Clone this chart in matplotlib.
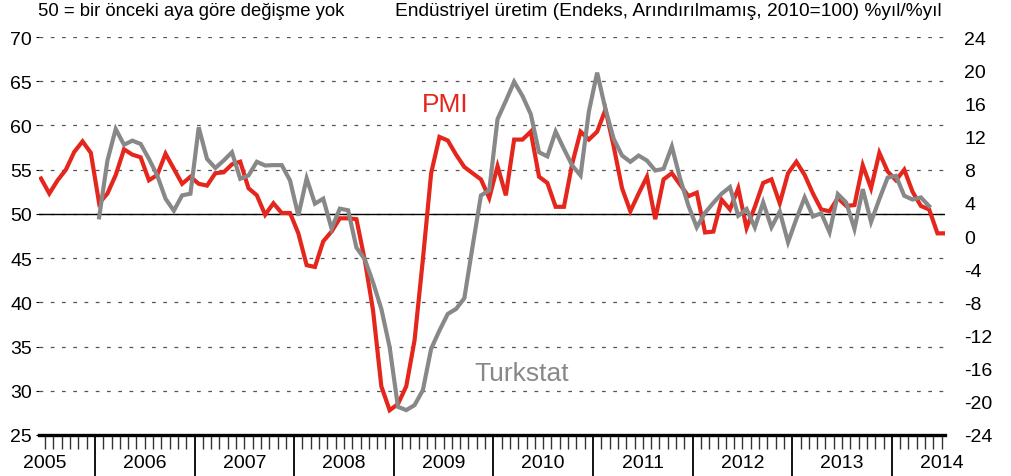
import numpy as np
import matplotlib
matplotlib.use("Agg")
from matplotlib import pyplot as plt
from matplotlib import transforms

# monthly data, Jun 2005 .. Jul 2014 (PMI) and Jan 2006 .. May 2014 (Turkstat)
pmi_start = 2005 + 5.5 / 12
pmi = [54.0, 52.3, 53.8, 55.0, 57.0, 58.2, 56.9,
       51.2, 52.3, 54.4, 57.3, 56.7, 56.4, 53.8, 54.4, 56.8, 55.1, 53.4, 54.2,
       53.4, 53.2, 54.6, 54.7, 55.6, 55.9, 52.9, 52.1, 49.9, 51.2, 50.1, 50.1,
       47.8, 44.2, 44.0, 46.9, 48.0, 49.5, 49.5, 49.4, 44.8, 39.1, 30.5, 27.8,
       28.5, 30.5, 35.7, 44.8, 54.6, 58.7, 58.3, 56.7, 55.3, 54.6, 53.9, 51.8,
       55.4, 52.1, 58.4, 58.4, 59.3, 54.2, 53.5, 50.8, 50.8, 55.7, 59.3, 58.4,
       59.3, 61.8, 57.6, 52.9, 50.3, 52.3, 54.2, 49.4, 53.9, 54.6, 53.3, 52.0,
       52.4, 47.9, 48.0, 51.6, 50.5, 52.9, 48.4, 50.8, 53.5, 53.9, 51.2, 54.6,
       55.9, 54.4, 52.3, 50.5, 50.3, 51.8, 50.9, 51.0, 55.5, 52.9, 56.9, 54.8,
       53.8, 55.0, 52.5, 50.9, 50.5, 47.8, 47.8]

ind_start = 2006 + 0.5 / 12
turkstat = [2.25, 9.1, 12.9, 11.0, 11.5, 11.1, 9.3, 7.3, 4.5, 3.05, 4.9, 5.1,
            13.1, 9.3, 8.2, 9.1, 10.1, 6.9, 7.3, 8.95, 8.5, 8.55, 8.55, 6.7,
            2.45, 6.95, 3.9, 4.5, 0.9, 3.3, 3.1, -1.4, -2.8, -5.6, -8.8, -13.4,
            -20.6, -21.0, -20.4, -18.6, -13.6, -11.4, -9.4, -8.8, -7.5, -1.2, 4.9, 5.5,
            14.1, 16.3, 18.6, 16.9, 14.7, 10.1, 9.6, 12.6, 10.5, 8.5, 7.3, 15.0,
            19.7, 15.3, 11.7, 9.7, 8.95, 9.7, 9.1, 7.9, 8.1, 10.8, 6.9, 3.65,
            1.05, 2.8, 4.0, 5.1, 5.9, 2.45, 3.25, 1.05, 4.05, 1.05, 2.95, -0.75,
            2.05, 4.65, 2.35, 2.75, 0.45, 5.05, 4.05, 0.85, 5.65, 1.7, 4.45, 7.05,
            7.25, 4.85, 4.4, 4.65, 3.6]

years = list(range(2005, 2015))
left_ticks = list(range(25, 75, 5))
right_ticks = list(range(-24, 28, 4))

plt.rcParams['font.family'] = ['Liberation Sans', 'DejaVu Sans']

RED = '#e4261c'
GREY = '#888888'

x_pmi = pmi_start + np.arange(len(pmi)) / 12
x_ind = ind_start + np.arange(len(turkstat)) / 12

fig = plt.figure(figsize=(10.11, 4.77), dpi=100)
ax = fig.add_axes([39 / 1011, 41 / 477, 906 / 1011, 398 / 477])
ax2 = ax.twinx()

ax.plot(x_pmi, pmi, color=RED, lw=3, solid_joinstyle='miter', zorder=3)
ax2.plot(x_ind, turkstat, color=GREY, lw=3, solid_joinstyle='miter')

ax.set_xlim(2005.438, 2014.534)
ax.set_ylim(25, 70)
ax2.set_ylim(-24, 24)

ax.set_yticks(left_ticks)
ax.set_yticklabels([str(v) for v in left_ticks], fontsize=14)
ax2.set_yticks(right_ticks)
ax2.set_yticklabels([str(v) for v in right_ticks], fontsize=14)
ax.tick_params(axis='y', length=2, pad=3)
ax2.tick_params(axis='y', length=0, pad=14)

ax.yaxis.grid(True, linestyle=(0, (3, 6)), color='#555555', lw=0.9)
ax.axhline(50, color='black', lw=1, zorder=2)
ax.set_axisbelow(True)

# year boundaries long, months short
ax.set_xticks(years[1:])
ax.set_xticklabels([])
ax.set_xticks([2005 + m / 12 for m in range(6, 115)], minor=True)
ax.tick_params(axis='x', which='major', length=30, width=1.3, color='black')
ax.tick_params(axis='x', which='minor', length=10, width=1, color='#333333')
trans = transforms.blended_transform_factory(ax.transData, ax.transAxes)
for yr in years:
    ax.text(yr + 0.5, -0.068, str(yr), transform=trans, ha='center', va='center', fontsize=14)

for a in (ax, ax2):
    for s in ('top', 'left', 'right', 'bottom'):
        a.spines[s].set_visible(False)
ax.spines['bottom'].set_visible(True)
ax.spines['bottom'].set_linewidth(2.4)

ax.text(2009.52, 62.4, 'PMI', color=RED, fontsize=19, ha='center', va='center', zorder=4)
ax.text(2010.28, 32.0, 'Turkstat', color=GREY, fontsize=19, ha='center', va='center', zorder=4)

fig.text(38 / 1011, 1 - 12 / 477, '50 = bir önceki aya göre değişme yok', fontsize=13.3, va='center')
fig.text(395 / 1011, 1 - 12 / 477, 'Endüstriyel üretim (Endeks, Arındırılmamış, 2010=100) %yıl/%yıl',
         fontsize=13.8, va='center')

fig.savefig('out.png', dpi=100)
